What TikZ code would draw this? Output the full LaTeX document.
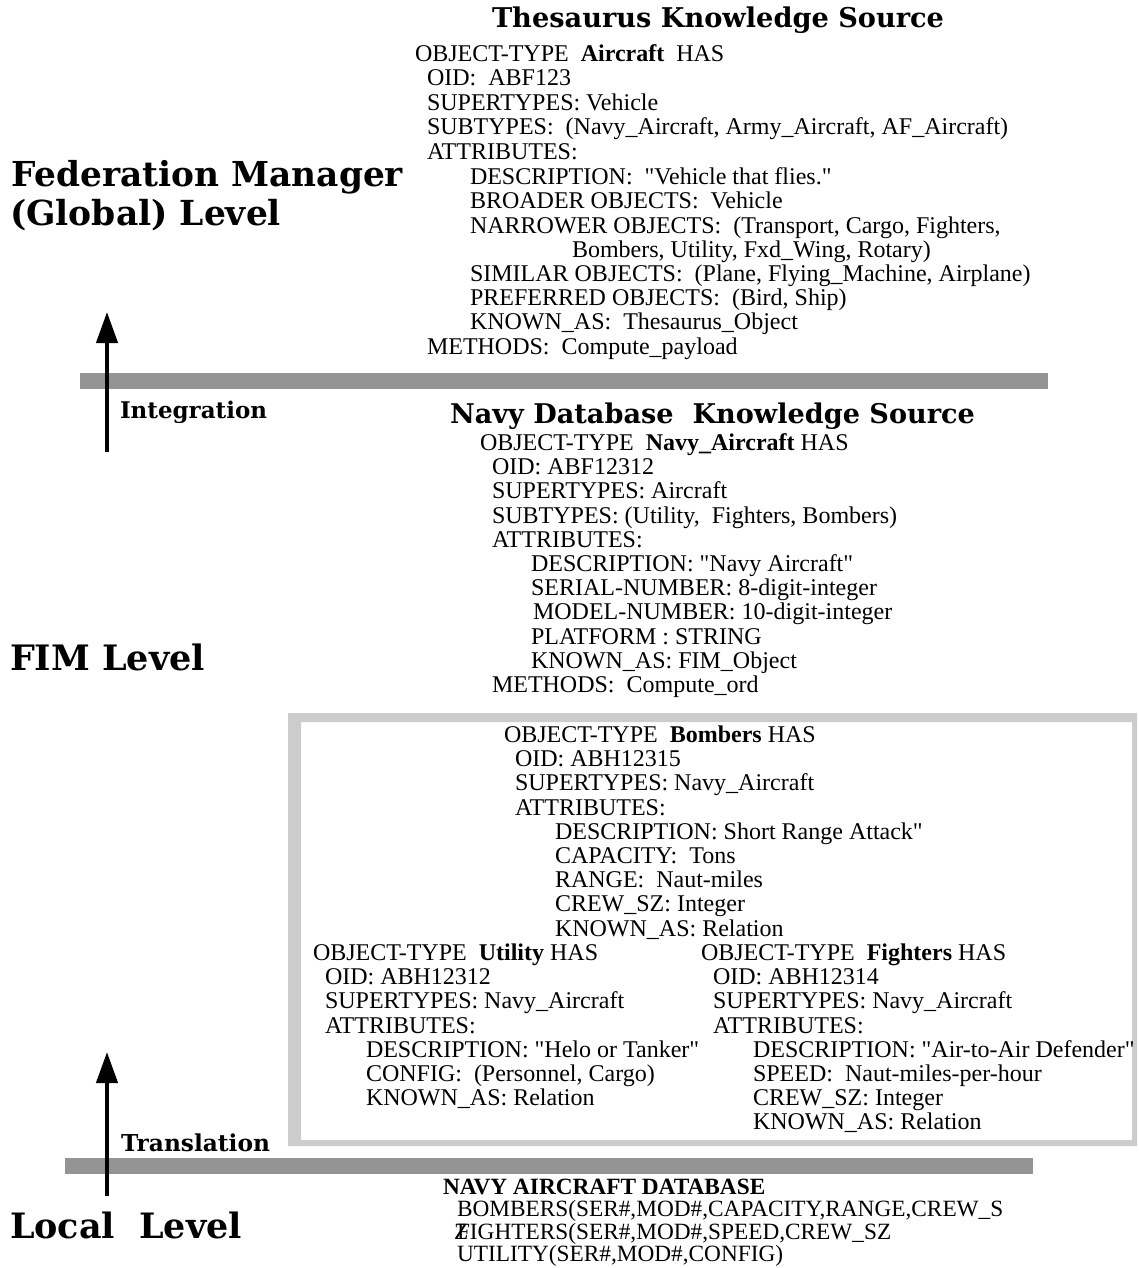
\documentclass[tikz,border=0pt]{standalone}
\usepackage{fontspec}
\setmainfont{Liberation Serif}[Ligatures=TeXOff]
\newfontfamily\headfont{DejaVu Serif}
\usetikzlibrary{arrows.meta}
\newcommand\fitw[2]{\resizebox{#1}{!}{#2}}
\tikzset{
  txt/.style={anchor=base west, inner sep=0pt, outer sep=0pt, font=\fontsize{24}{26}\selectfont},
  dbtxt/.style={anchor=base west, inner sep=0pt, outer sep=0pt, font=\fontsize{23.3}{26}\selectfont},
  head/.style={anchor=base west, inner sep=0pt, outer sep=0pt, font=\headfont\bfseries},
  bar/.style={fill=black!42, draw=none},
  frame/.style={fill=black!20, even odd rule, draw=none},
  uparrow/.style={line width=4.3pt, -{Triangle[width=21pt,length=31pt]}},
}
\begin{document}
\begin{tikzpicture}[x=1pt,y=-1pt]
\path[use as bounding box] (0,0) rectangle (1138,1268);

% hatched level bars and frame
\fill[bar] (80,373) rectangle (1048,389);
\fill[bar] (65,1158) rectangle (1033,1174);
\fill[frame] (288,713) rectangle (1137,1146) (301,722) rectangle (1132,1140);

% level headings
\node[head] (fm1) at (12,186) {\fitw{391pt}{Federation Manager}};
\node[head] (fm2) at (10,225) {\fitw{271pt}{(Global) Level}};
\node[head] (fim) at (10,670) {\fitw{195pt}{FIM Level}};
\node[head] (loc) at (10,1238) {\fitw{232pt}{Local\ \ Level}};
\node[head] (integ) at (120,418) {\fitw{147pt}{Integration}};
\node[head] (trans) at (121,1151) {\fitw{149pt}{Translation}};

% Thesaurus knowledge source
\node[head] (tht) at (492,28) {\fitw{452pt}{Thesaurus Knowledge Source}};
\node[txt] (th0) at (415,61.5) {OBJECT-TYPE~ {\bfseries Aircraft}~ HAS};
\node[txt] (th1) at (427,85.9) {OID:~ ABF123};
\node[txt] (th2) at (427,110.3) {SUPERTYPES: Vehicle};
\node[txt] (th3) at (427,134.7) {SUBTYPES:~ (Navy\_Aircraft, Army\_Aircraft, AF\_Aircraft)};
\node[txt] (th4) at (427,159.1) {ATTRIBUTES:};
\node[txt] (th5) at (470,184.5) {DESCRIPTION:~ "Vehicle that flies."};
\node[txt] (th6) at (470,208.9) {BROADER OBJECTS:~ Vehicle};
\node[txt] (th7) at (470,233.1) {NARROWER OBJECTS:~ (Transport, Cargo, Fighters,};
\node[txt] (th8) at (572,257.3) {Bombers, Utility, Fxd\_Wing, Rotary)};
\node[txt] (th9) at (470,281.5) {SIMILAR OBJECTS:~ (Plane, Flying\_Machine, Airplane)};
\node[txt] (th10) at (470,305.7) {PREFERRED OBJECTS:~ (Bird, Ship)};
\node[txt] (th11) at (470,329.9) {KNOWN\_AS:~ Thesaurus\_Object};
\node[txt] (th12) at (427,354.3) {METHODS:~ Compute\_payload};

% Navy database knowledge source
\node[head] (nvt) at (450,423) {\fitw{525pt}{Navy Database\ \ Knowledge Source}};
\node[txt] (nv0) at (480,450.5) {OBJECT-TYPE~ {\bfseries Navy\_Aircraft} HAS};
\node[txt] (nv1) at (492,474.7) {OID: ABF12312};
\node[txt] (nv2) at (492,498.9) {SUPERTYPES: Aircraft};
\node[txt] (nv3) at (492,523.1) {SUBTYPES: (Utility,~ Fighters, Bombers)};
\node[txt] (nv4) at (492,547.3) {ATTRIBUTES:};
\node[txt] (nv5) at (531,571.5) {DESCRIPTION: "Navy Aircraft"};
\node[txt] (nv6) at (531,595.7) {SERIAL-NUMBER: 8-digit-integer};
\node[txt] (nv7) at (533,619.9) {MODEL-NUMBER: 10-digit-integer};
\node[txt] (nv8) at (531,644.1) {PLATFORM : STRING};
\node[txt] (nv9) at (531,668.3) {KNOWN\_AS: FIM\_Object};
\node[txt] (nv10) at (492,692.5) {METHODS:~ Compute\_ord};

% Bombers
\node[txt] (bo0) at (504,742.5) {OBJECT-TYPE~ {\bfseries Bombers} HAS};
\node[txt] (bo1) at (515,766.7) {OID: ABH12315};
\node[txt] (bo2) at (515,790.9) {SUPERTYPES: Navy\_Aircraft};
\node[txt] (bo3) at (515,815.1) {ATTRIBUTES:};
\node[txt] (bo4) at (555,839.3) {DESCRIPTION: Short Range Attack"};
\node[txt] (bo5) at (555,863.5) {CAPACITY:~ Tons};
\node[txt] (bo6) at (555,887.7) {RANGE:~ Naut-miles};
\node[txt] (bo7) at (555,911.9) {CREW\_SZ: Integer};
\node[txt] (bo8) at (555,936.1) {KNOWN\_AS: Relation};

% Utility
\node[txt] (ut0) at (313,960.5) {OBJECT-TYPE~ {\bfseries Utility} HAS};
\node[txt] (ut1) at (325,984.7) {OID: ABH12312};
\node[txt] (ut2) at (325,1008.9) {SUPERTYPES: Navy\_Aircraft};
\node[txt] (ut3) at (325,1033.1) {ATTRIBUTES:};
\node[txt] (ut4) at (366,1057.3) {DESCRIPTION: "Helo or Tanker"};
\node[txt] (ut5) at (366,1081.5) {CONFIG:~ (Personnel, Cargo)};
\node[txt] (ut6) at (366,1105.7) {KNOWN\_AS: Relation};

% Fighters
\node[txt] (fi0) at (701,960.5) {OBJECT-TYPE~ {\bfseries Fighters} HAS};
\node[txt] (fi1) at (713,984.7) {OID: ABH12314};
\node[txt] (fi2) at (713,1008.9) {SUPERTYPES: Navy\_Aircraft};
\node[txt] (fi3) at (713,1033.1) {ATTRIBUTES:};
\node[txt] (fi4) at (753,1057.3) {DESCRIPTION: "Air-to-Air Defender"};
\node[txt] (fi5) at (753,1081.5) {SPEED:~ Naut-miles-per-hour};
\node[txt] (fi6) at (753,1105.7) {CREW\_SZ: Integer};
\node[txt] (fi7) at (753,1129.9) {KNOWN\_AS: Relation};

% Navy aircraft database
\node[dbtxt, font=\fontsize{23.3}{26}\selectfont\bfseries] (db0) at (443,1194) {NAVY AIRCRAFT DATABASE};
\node[dbtxt] (db1) at (457,1216.5) {BOMBERS(SER\#,MOD\#,CAPACITY,RANGE,CREW\_S};
\node[dbtxt] (db2) at (457,1239) {FIGHTERS(SER\#,MOD\#,SPEED,CREW\_SZ};
\node[dbtxt] (db2z) at (454,1239) {Z};
\node[dbtxt] (db3) at (457,1261.5) {UTILITY(SER\#,MOD\#,CONFIG)};

% arrows
\coordinate (ua0) at (107,452);
\coordinate (ua1) at (107,312);
\coordinate (la0) at (107,1196);
\coordinate (la1) at (107,1052);
\draw[uparrow] (ua0) -- (ua1);
\draw[uparrow] (la0) -- (la1);
\end{tikzpicture}
\end{document}
